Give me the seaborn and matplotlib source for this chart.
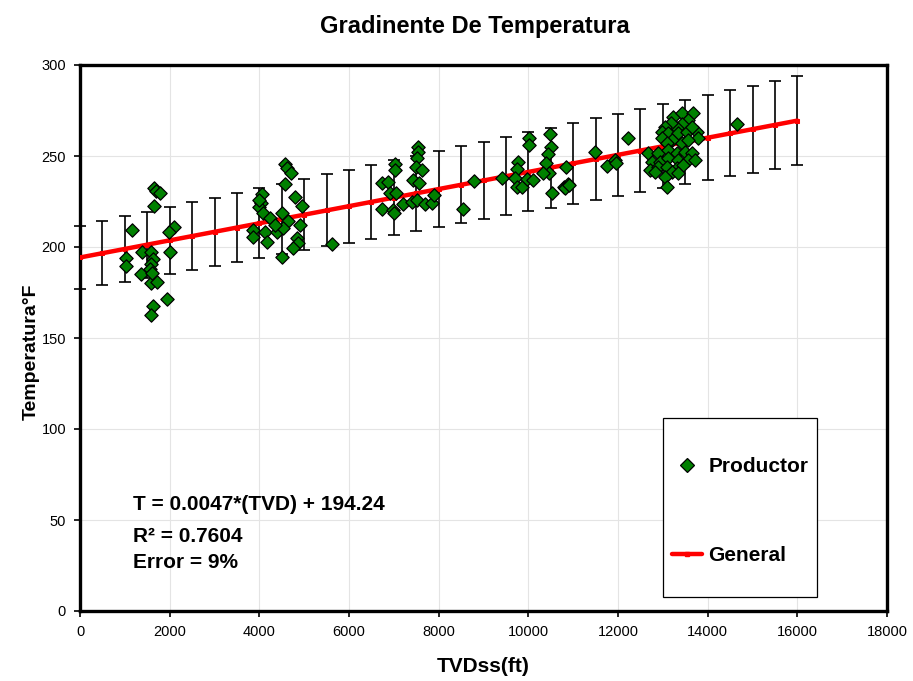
import matplotlib
matplotlib.use("Agg")
import matplotlib.pyplot as plt
import seaborn as sns
import pandas as pd
import numpy as np
from matplotlib.lines import Line2D
from matplotlib.patches import Rectangle

# ---- data ----
prod_tvd = [1651, 1700, 1785, 1651, 1153, 2097, 1993, 1026, 1026, 1383, 1591, 1621, 1591, 1561,
            1368, 1576, 1725, 2015, 1948, 1636, 1591, 1600,
            4580, 4611, 4707, 4573, 4067, 4030, 4000, 4803, 4952, 4090, 4499, 4238, 4646, 3852,
            4127, 4402, 4536, 4907, 3867, 4164, 4833, 4870, 4760, 4499, 5628, 4000, 4350,
            6729, 6877, 6915, 7049, 6729, 6975, 7004, 7212, 7026, 7026, 7399, 7511, 7533, 7533,
            7511, 7495, 7622, 7421, 7570, 7696, 7845, 7897, 8537, 8789, 9407, 9778, 9741, 9703,
            9741, 9853, 9964, 10112, 10023, 10023, 10484, 10500, 10447, 10395, 10469, 10335,
            10522, 10796, 10893, 10830, 10818, 10915,
            11495, 11748, 11934, 11956, 12231, 14648,
            13235, 13436, 13681, 13570, 13421, 13310, 13183, 13049, 12975, 13124, 13347, 13533,
            13756, 13645, 13793, 13213, 12975, 13087, 13421, 13570, 12677, 12900, 13124, 13310,
            13496, 13645, 12752, 12938, 13124, 13347, 13570, 13719, 12715, 12900, 13087, 13310,
            13458, 13198, 13347, 13049, 12826, 13087]
prod_temp = [232.3, 231.0, 229.5, 222.7, 209.3, 210.8, 208.0, 194.1, 189.6, 197.4, 197.2, 193.2,
             190.7, 187.7, 185.2, 180.4, 181.0, 197.4, 171.3, 167.6, 162.8, 185.5,
             245.6, 243.2, 240.5, 234.4, 229.1, 224.3, 221.8, 227.7, 222.7, 218.5, 218.5, 215.7,
             214.5, 209.3, 208.4, 208.4, 210.3, 212.1, 205.3, 202.9, 204.8, 202.0, 199.3, 194.7,
             201.6, 226.0, 212.0,
             235.3, 235.9, 229.5, 229.8, 220.7, 220.3, 218.5, 223.6, 245.6, 242.3, 224.9, 225.8,
             255.1, 252.4, 248.7, 244.1, 242.3, 236.8, 235.3, 223.6, 224.0, 228.6, 220.7, 236.4,
             237.7, 246.9, 242.7, 237.7, 233.1, 233.1, 237.2, 236.8, 259.7, 256.0, 262.1, 255.1,
             251.1, 246.0, 240.8, 240.8, 229.8, 232.7, 234.6, 244.0, 232.5, 234.0,
             252.2, 244.5, 247.8, 246.3, 259.7, 267.4,
             271.6, 273.8, 273.8, 269.8, 267.6, 265.2, 268.0, 265.8, 263.4, 262.5, 262.5, 263.4,
             263.4, 266.1, 259.7, 258.8, 259.7, 257.0, 257.0, 258.8, 251.5, 251.5, 253.3, 251.5,
             252.4, 251.5, 246.9, 246.9, 248.7, 247.8, 247.8, 247.8, 242.3, 244.1, 244.1, 243.2,
             245.0, 241.4, 240.5, 238.6, 241.4, 232.8]

gen_tvd = [0, 500, 1000, 1500, 2000, 2500, 3000, 3500, 4000, 4500, 5000, 5500, 6000, 6500,
           7000, 7500, 8000, 8500, 9000, 9500, 10000, 10500, 11000, 11500, 12000, 12500,
           13000, 13500, 14000, 14500, 15000, 15500, 16000]
gen_temp = [194.24, 196.59, 198.94, 201.29, 203.64, 205.99, 208.34, 210.69, 213.04, 215.39,
            217.74, 220.09, 222.44, 224.79, 227.14, 229.49, 231.84, 234.19, 236.54, 238.89,
            241.24, 243.59, 245.94, 248.29, 250.64, 252.99, 255.34, 257.69, 260.04, 262.39,
            264.74, 267.09, 269.44]
error_pct = 9

x_ticks = [0, 2000, 4000, 6000, 8000, 10000, 12000, 14000, 16000, 18000]
y_ticks = [0, 50, 100, 150, 200, 250, 300]

title = "Gradinente De Temperatura"
xlabel = "TVDss(ft)"
ylabel = "Temperatura°F"
eq_lines = ["T = 0.0047*(TVD) + 194.24", "R² = 0.7604", "Error = 9%"]

# ---- style ----
sns.set_style("white")
plt.rcParams['font.family'] = ['Liberation Sans', 'DejaVu Sans']
plt.rcParams.update({'text.color': 'black', 'axes.labelcolor': 'black',
                     'xtick.color': 'black', 'ytick.color': 'black'})

fig = plt.figure(figsize=(9.13, 6.81), dpi=100)
ax = fig.add_axes([80/913, 1-611/681, 807/913, 546/681])

df_p = pd.DataFrame({"TVD": prod_tvd, "T": prod_temp})
df_g = pd.DataFrame({"TVD": gen_tvd, "T": gen_temp})
df_g["err"] = df_g["T"] * error_pct / 100.0

ax.errorbar(df_g["TVD"], df_g["T"], yerr=df_g["err"], fmt='none', ecolor='black',
            elinewidth=1.2, capsize=4.5, capthick=1.2, zorder=2, clip_on=False)
sns.lineplot(data=df_g, x="TVD", y="T", ax=ax, color='#ff0000', linewidth=3.2,
             marker='s', markersize=3.5, markeredgecolor='#ff0000', zorder=3)
sns.scatterplot(data=df_p, x="TVD", y="T", ax=ax, marker='D', s=46, color='#008000',
                edgecolor='black', linewidth=0.9, zorder=4)

ax.set_xlim(0, 18000)
ax.set_ylim(0, 300)
ax.set_xticks(x_ticks)
ax.set_yticks(y_ticks)
ax.set_xticklabels([str(v) for v in x_ticks], fontsize=10.5)
ax.set_yticklabels([str(v) for v in y_ticks], fontsize=10.5)
ax.grid(True, color='#e4e4e4', linewidth=0.8, zorder=0)
ax.set_axisbelow(True)
for sp in ax.spines.values():
    sp.set_linewidth(2.4)
    sp.set_color('black')
ax.tick_params(axis='both', direction='out', length=4, width=1.2, color='black', pad=6,
               bottom=True, left=True)

ax.set_xlabel(xlabel, fontsize=15, fontweight='bold', labelpad=13)
ax.set_ylabel(ylabel, fontsize=14, fontweight='bold')
ax.yaxis.set_label_coords((40-80)/807, (611-352)/546)
fig.suptitle(title, fontsize=17, fontweight='bold', x=475/913, y=1-26/681, va='center')

# equation text
eq_y = [505, 536, 563]
for t, py in zip(eq_lines, eq_y):
    ax.text((133-80)/807, (611-py)/546, t, transform=ax.transAxes,
            fontsize=15, fontweight='bold', va='center', ha='left')

# legend
ax.add_patch(Rectangle(((663-80)/807, (611-597)/546), (817-663)/807, (597-418)/546,
                       transform=ax.transAxes, facecolor='white', edgecolor='black',
                       linewidth=0.9, zorder=5))
handles = [Line2D([], [], marker='D', color='#008000', markeredgecolor='black', linestyle='none',
                  markersize=6.8, markeredgewidth=0.9),
           Line2D([], [], color='#ff0000', linewidth=3.2, marker='s', markersize=3.5)]
leg = ax.legend(handles, ["Productor", "General"], loc='upper left',
                bbox_to_anchor=((672-80)/807, (611-457)/546), frameon=False,
                prop={'weight': 'bold', 'size': 15}, labelspacing=3.35, handlelength=1.45,
                handletextpad=0.3, borderpad=0, borderaxespad=0)
leg.set_zorder(6)

fig.savefig("out.png", dpi=100)
